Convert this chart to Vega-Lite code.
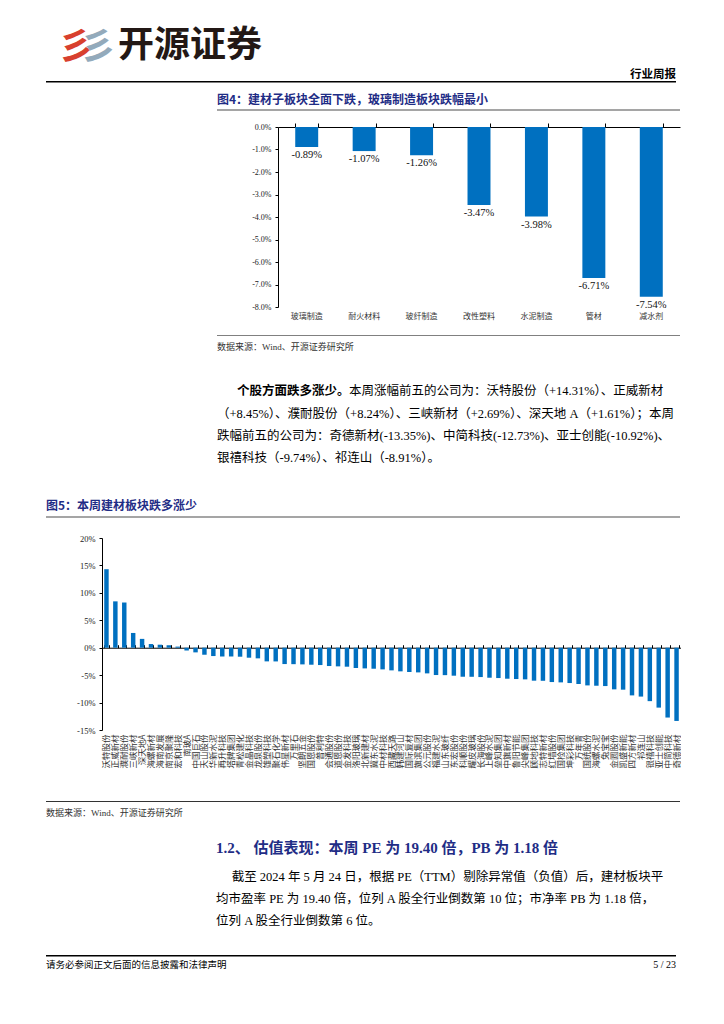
{
  "$schema": "https://vega.github.io/schema/vega-lite/v6.json",
  "padding": {"left": 46, "top": 28, "right": 0, "bottom": 0},
  "background": "white",
  "spacing": 0,
  "config": {
    "view": {"stroke": null},
    "font": "Liberation Serif, Noto Sans CJK SC",
    "locale": {"number": {"decimal": ".", "thousands": ",", "grouping": [3], "currency": ["$", ""], "minus": "-"}},
    "title": {"anchor": "start", "color": "#000", "font": "Noto Sans CJK SC"},
    "axis": {"labelColor": "#222", "domainColor": "#000", "tickColor": "#000", "grid": false, "labelFont": "Liberation Serif, Noto Sans CJK SC"}
  },
  "vconcat": [
    {
      "hconcat": [
        {"data": {"values": []}, "mark": "point", "width": 36, "height": 1.5, "view": {"fill": "#000", "stroke": null},
         "title": {"text": "彡", "fontSize": 36, "fontWeight": "bold", "font": "Noto Sans CJK SC", "dx": 12, "offset": 14, "color": "#d8402e"}},
        {"data": {"values": []}, "mark": "point", "width": 36, "height": 1.5, "view": {"fill": "#000", "stroke": null},
         "title": {"text": "彡", "fontSize": 36, "fontWeight": "bold", "font": "Noto Sans CJK SC", "dx": -2, "offset": 14, "color": "#93aabb"}},
        {"data": {"values": []}, "mark": "point", "width": 378, "height": 1.5, "view": {"fill": "#000", "stroke": null},
         "title": {"text": "开源证券", "fontSize": 36, "fontWeight": "bold", "font": "Noto Sans CJK SC", "dx": 0, "offset": 16, "color": "#231815"}},
        {"data": {"values": []}, "mark": "point", "width": 180, "height": 1.5, "view": {"fill": "#000", "stroke": null},
         "title": {"text": "行业周报", "fontSize": 11.5, "fontWeight": "bold", "anchor": "end", "offset": 1}}
      ],
      "spacing": 0,
      "bounds": "flush"
    },
    {"data": {"values": []}, "mark": "point", "width": 1, "height": 10.5},
    {
      "hconcat": [
        {"data": {"values": []}, "mark": "point", "width": 171, "height": 1},
        {
          "vconcat": [
            {"data": {"values": []}, "mark": "point", "width": 463, "height": 2, "view": {"fill": "#a5a5a5", "stroke": null},
             "title": {"text": "图4：建材子板块全面下跌，玻璃制造板块跌幅最小", "fontSize": 12, "fontWeight": "bold", "color": "#1F2D86", "offset": 2}},
            {
              "hconcat": [
                {"data": {"values": []}, "mark": "point", "width": 0, "height": 1},
                {
                  "width": 402,
                  "height": 180,
                  "data": {"values": [
                    {"sector": "玻璃制造", "chg": -0.0089},
                    {"sector": "耐火材料", "chg": -0.0107},
                    {"sector": "玻纤制造", "chg": -0.0126},
                    {"sector": "改性塑料", "chg": -0.0347},
                    {"sector": "水泥制造", "chg": -0.0398},
                    {"sector": "管材", "chg": -0.0671},
                    {"sector": "减水剂", "chg": -0.0754}
                  ]},
                  "encoding": {
                    "y": {"field": "chg", "type": "quantitative", "title": null,
                          "scale": {"domain": [-0.08, 0], "nice": false},
                          "axis": {"format": ".1%", "values": [0, -0.01, -0.02, -0.03, -0.04, -0.05, -0.06, -0.07, -0.08], "tickSize": 3, "labelPadding": 4, "labelFontSize": 8, "labelFont": "Liberation Serif", "minExtent": 41}}
                  },
                  "layer": [
                    {"mark": {"type": "bar", "color": "#0070C0"},
                     "encoding": {"x": {"field": "sector", "type": "nominal", "sort": null, "title": null,
                       "scale": {"paddingInner": 0.6, "paddingOuter": 0.3},
                       "axis": {"orient": "bottom", "domain": false, "ticks": false, "labelAngle": 0, "labelPadding": 5, "labelFontSize": 8, "labelFont": "Noto Sans CJK SC", "labelColor": "#333", "minExtent": 28}}}},
                    {"mark": {"type": "text", "baseline": "top", "dy": 3, "fontSize": 10.5, "font": "Liberation Serif", "color": "#111"},
                     "encoding": {"x": {"field": "sector", "type": "nominal", "sort": null, "axis": null},
                       "text": {"field": "chg", "type": "quantitative", "format": ".2%"}}},
                    {"mark": {"type": "bar", "opacity": 0},
                     "encoding": {"x": {"field": "sector", "type": "nominal", "sort": null, "title": null,
                       "axis": {"orient": "top", "labels": false, "domain": true, "ticks": true, "tickSize": 4, "tickBand": "extent", "minExtent": 16}}}}
                  ],
                  "resolve": {"axis": {"x": "independent"}}
                }
              ],
              "spacing": 0
            },
            {"data": {"values": []}, "mark": "point", "width": 463, "height": 1, "view": {"fill": "#808080", "stroke": null},
             "title": {"text": "数据来源：Wind、开源证券研究所", "orient": "bottom", "fontSize": 9, "fontWeight": "normal", "font": "Liberation Serif, Noto Sans CJK SC", "color": "#333", "offset": 6.5}},
            {
              "hconcat": [
                {"data": {"values": []}, "mark": "point", "width": 132, "height": 1,
                 "title": {"text": "个股方面跌多涨少。", "orient": "bottom", "fontSize": 12.5, "fontWeight": "bold", "font": "Noto Sans CJK SC", "dx": 20, "offset": 32}},
                {"data": {"values": []}, "mark": "point", "width": 328, "height": 1,
                 "title": {"text": "本周涨幅前五的公司为：沃特股份（+14.31%）、正威新材", "orient": "bottom", "fontSize": 12.5, "fontWeight": "normal", "font": "Liberation Serif, Noto Sans CJK SC", "offset": 32}}
              ],
              "spacing": 0,
              "bounds": "flush"
            },
            {"data": {"values": []}, "mark": "point", "width": 460, "height": 1,
             "title": {"text": [
               "（+8.45%）、濮耐股份（+8.24%）、三峡新材（+2.69%）、深天地 A（+1.61%）；本周",
               "跌幅前五的公司为：奇德新材(-13.35%)、中简科技(-12.73%)、亚士创能(-10.92%)、",
               "银禧科技（-9.74%）、祁连山（-8.91%）。"
             ], "orient": "bottom", "fontSize": 12.5, "fontWeight": "normal", "font": "Liberation Serif, Noto Sans CJK SC", "lineHeight": 22, "offset": 8.5}}
          ],
          "spacing": 0
        }
      ],
      "spacing": 0
    },
    {"data": {"values": []}, "mark": "point", "width": 1, "height": 36},
    {"data": {"values": []}, "mark": "point", "width": 634, "height": 2, "view": {"fill": "#a5a5a5", "stroke": null},
     "title": {"text": "图5：本周建材板块跌多涨少", "fontSize": 12, "fontWeight": "bold", "color": "#1F2D86", "offset": 3}},
    {"data": {"values": []}, "mark": "point", "width": 1, "height": 16},
    {
      "hconcat": [
        {"data": {"values": []}, "mark": "point", "width": 0, "height": 1},
        {
          "width": 579,
          "height": 192,
          "data": {"values": [
            {"name": "沃特股份", "chg": 0.1431},
            {"name": "正威新材", "chg": 0.0845},
            {"name": "濮耐股份", "chg": 0.0824},
            {"name": "三峡新材", "chg": 0.0269},
            {"name": "深天地A", "chg": 0.0161},
            {"name": "海螺新材", "chg": 0.0067},
            {"name": "海南发展", "chg": 0.0055},
            {"name": "南京聚隆", "chg": 0.0045},
            {"name": "宏和科技", "chg": 0.0020},
            {"name": "南玻A", "chg": -0.0050},
            {"name": "中国巨石", "chg": -0.0085},
            {"name": "天山股份", "chg": -0.0128},
            {"name": "华新水泥", "chg": -0.0152},
            {"name": "再升科技", "chg": -0.0158},
            {"name": "塔牌集团", "chg": -0.0160},
            {"name": "青松建化", "chg": -0.0164},
            {"name": "金晶科技", "chg": -0.0182},
            {"name": "龙泉股份", "chg": -0.0194},
            {"name": "雄塑科技", "chg": -0.0249},
            {"name": "聚石化学", "chg": -0.0250},
            {"name": "伟星新材", "chg": -0.0298},
            {"name": "万里石", "chg": -0.0300},
            {"name": "坚朗五金", "chg": -0.0304},
            {"name": "国恩股份", "chg": -0.0310},
            {"name": "普利特", "chg": -0.0316},
            {"name": "会通股份", "chg": -0.0334},
            {"name": "道恩股份", "chg": -0.0340},
            {"name": "金发科技", "chg": -0.0346},
            {"name": "洛阳玻璃", "chg": -0.0370},
            {"name": "北新建材", "chg": -0.0377},
            {"name": "冀东水泥", "chg": -0.0383},
            {"name": "中材科技", "chg": -0.0395},
            {"name": "西藏天路", "chg": -0.0413},
            {"name": "韩建河山", "chg": -0.0431},
            {"name": "国际复材", "chg": -0.0443},
            {"name": "旗滨集团", "chg": -0.0450},
            {"name": "公元股份", "chg": -0.0468},
            {"name": "福建水泥", "chg": -0.0498},
            {"name": "山东玻纤", "chg": -0.0500},
            {"name": "东宏股份", "chg": -0.0510},
            {"name": "科顺股份", "chg": -0.0529},
            {"name": "耀皮玻璃", "chg": -0.0530},
            {"name": "长海股份", "chg": -0.0535},
            {"name": "上峰水泥", "chg": -0.0547},
            {"name": "垒知集团", "chg": -0.0553},
            {"name": "中旗新材", "chg": -0.0565},
            {"name": "鲁阳节能", "chg": -0.0571},
            {"name": "尖峰集团", "chg": -0.0577},
            {"name": "顾地科技", "chg": -0.0601},
            {"name": "志特新材", "chg": -0.0603},
            {"name": "红墙股份", "chg": -0.0626},
            {"name": "国检集团", "chg": -0.0632},
            {"name": "坤彩科技", "chg": -0.0644},
            {"name": "万年青", "chg": -0.0662},
            {"name": "国统股份", "chg": -0.0687},
            {"name": "海螺水泥", "chg": -0.0693},
            {"name": "兔宝宝", "chg": -0.0699},
            {"name": "金圆股份", "chg": -0.0759},
            {"name": "凯盛新能", "chg": -0.0765},
            {"name": "四方新材", "chg": -0.0869},
            {"name": "祁连山", "chg": -0.0891},
            {"name": "银禧科技", "chg": -0.0974},
            {"name": "亚士创能", "chg": -0.1092},
            {"name": "中简科技", "chg": -0.1273},
            {"name": "奇德新材", "chg": -0.1335}
          ]},
          "encoding": {
            "y": {"field": "chg", "type": "quantitative", "title": null,
                  "scale": {"domain": [-0.15, 0.2], "nice": false},
                  "axis": {"format": ".0%", "values": [0.2, 0.15, 0.1, 0.05, 0, -0.05, -0.1, -0.15], "tickSize": 3, "labelPadding": 4, "labelFontSize": 8.5, "labelFont": "Liberation Serif", "minExtent": 36}}
          },
          "layer": [
            {"mark": {"type": "bar", "color": "#0070C0"},
             "encoding": {"x": {"field": "name", "type": "nominal", "sort": null, "title": null,
               "scale": {"paddingInner": 0.5, "paddingOuter": 0.25},
               "axis": {"orient": "bottom", "domain": false, "ticks": false, "labelAngle": -90, "labelPadding": 4, "labelFontSize": 8.5, "labelFont": "Noto Sans CJK SC", "labelColor": "#333", "labelOverlap": false, "minExtent": 71}}}},
            {"mark": {"type": "bar", "opacity": 0},
             "encoding": {"x": {"field": "name", "type": "nominal", "sort": null, "title": null,
               "axis": {"orient": "top", "offset": -109.71, "labels": false, "domain": true, "ticks": true, "tickSize": 3, "tickBand": "extent", "minExtent": 0}}}}
          ],
          "resolve": {"axis": {"x": "independent"}}
        }
      ],
      "spacing": 0
    },
    {"data": {"values": []}, "mark": "point", "width": 634, "height": 1, "view": {"fill": "#333", "stroke": null},
     "title": {"text": "数据来源：Wind、开源证券研究所", "orient": "bottom", "fontSize": 9, "fontWeight": "normal", "font": "Liberation Serif, Noto Sans CJK SC", "color": "#333", "offset": 6.5}},
    {"data": {"values": []}, "mark": "point", "width": 634, "height": 1,
     "title": {"text": "1.2、 估值表现：本周 PE 为 19.40 倍，PB 为 1.18 倍", "orient": "bottom", "fontSize": 15, "fontWeight": "bold", "font": "Liberation Serif, Noto Sans CJK SC", "color": "#1F2D86", "dx": 170, "offset": 21.5}},
    {"data": {"values": []}, "mark": "point", "width": 634, "height": 1,
     "title": {"text": [
       "​　  截至 2024 年 5 月 24 日，根据 PE（TTM）剔除异常值（负值）后，建材板块平",
       "均市盈率 PE 为 19.40 倍，位列 A 股全行业倒数第 10 位；市净率 PB 为 1.18 倍，",
       "位列 A 股全行业倒数第 6 位。"
     ], "orient": "bottom", "fontSize": 12.5, "fontWeight": "normal", "font": "Liberation Serif, Noto Sans CJK SC", "lineHeight": 22, "dx": 170, "offset": 14}},
    {"data": {"values": []}, "mark": "point", "width": 1, "height": 27},
    {
      "hconcat": [
        {"data": {"values": []}, "mark": "point", "width": 400, "height": 1.5, "view": {"fill": "#000", "stroke": null},
         "title": {"text": "请务必参阅正文后面的信息披露和法律声明", "orient": "bottom", "fontSize": 9.5, "fontWeight": "normal", "font": "Liberation Serif, Noto Sans CJK SC", "offset": 3}},
        {"data": {"values": []}, "mark": "point", "width": 230, "height": 1.5, "view": {"fill": "#000", "stroke": null},
         "title": {"text": "5 / 23", "orient": "bottom", "fontSize": 10, "fontWeight": "normal", "font": "Liberation Serif", "anchor": "end", "offset": 3}}
      ],
      "spacing": 0,
      "bounds": "flush"
    }
  ]
}
